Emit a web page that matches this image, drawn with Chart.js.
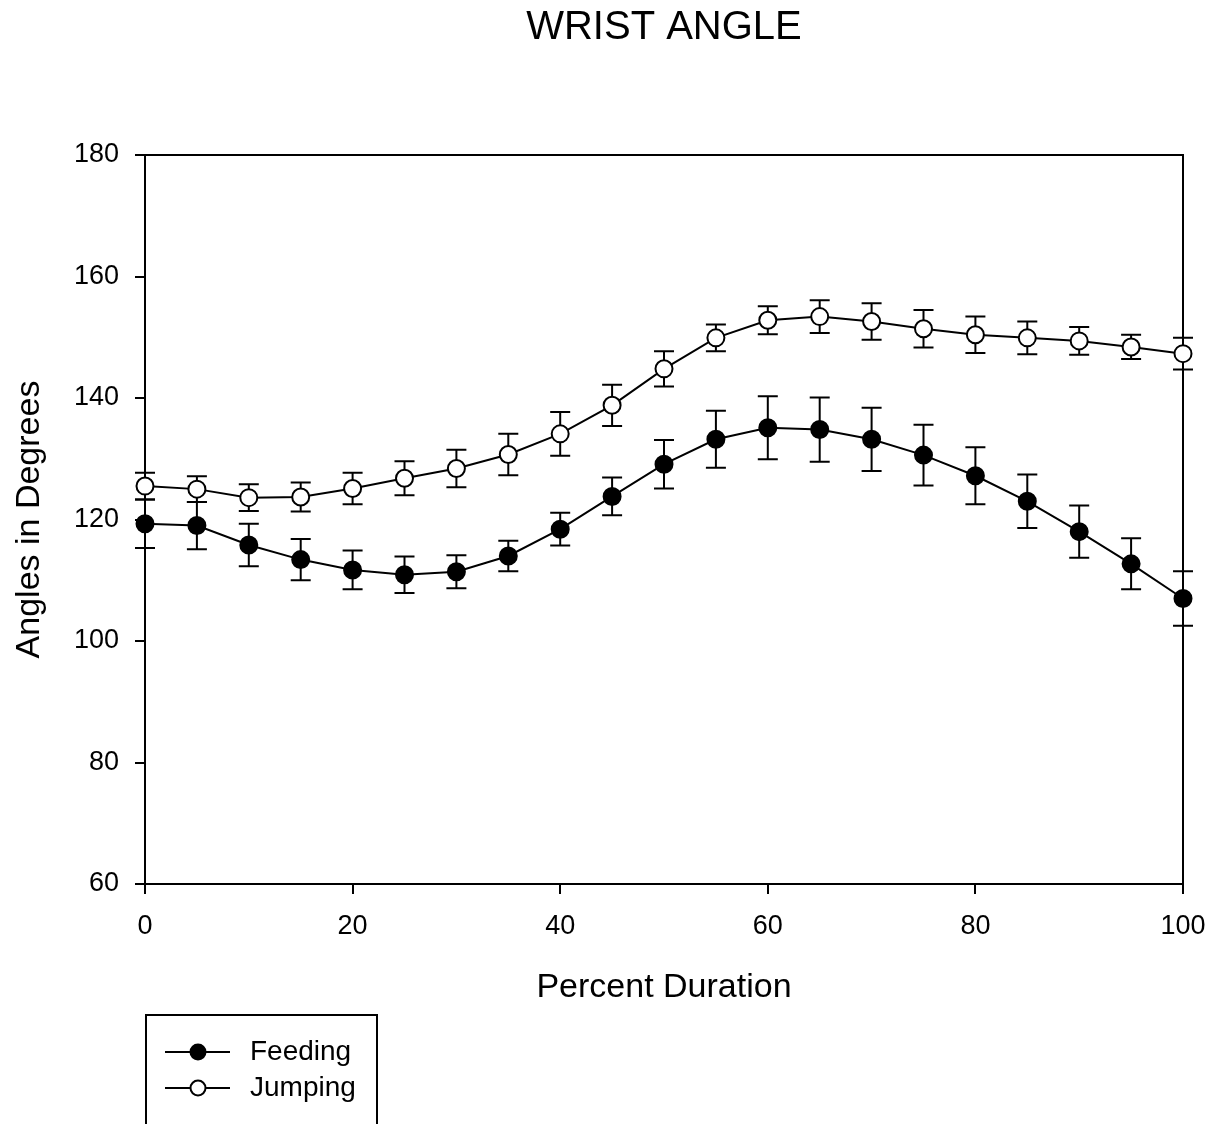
<!DOCTYPE html>
<html>
<head>
<meta charset="utf-8">
<script src="https://cdn.jsdelivr.net/npm/chart.js@4.4.1/dist/chart.umd.min.js"></script>
<style>
  html, body { margin: 0; padding: 0; background: #fff; }
  canvas { display: block; }
</style>
</head>
<body>
<canvas id="c" width="1210" height="1124"></canvas>
<script>
const titleText = 'WRIST ANGLE';
const xTitle = 'Percent Duration';
const yTitle = 'Angles in Degrees';
const percent = [0, 5, 10, 15, 20, 25, 30, 35, 40, 45, 50, 55, 60, 65, 70, 75, 80, 85, 90, 95, 100];
const feeding = [119.3, 119.0, 115.8, 113.4, 111.7, 110.9, 111.4, 114.0, 118.4, 123.8, 129.1, 133.2, 135.1, 134.8, 133.2, 130.6, 127.2, 123.0, 118.0, 112.7, 107.0];
const feedingErr = [4.0, 3.9, 3.5, 3.4, 3.2, 3.0, 2.7, 2.5, 2.7, 3.1, 4.0, 4.7, 5.2, 5.3, 5.2, 5.0, 4.7, 4.4, 4.3, 4.2, 4.5];
const jumping = [125.5, 125.0, 123.6, 123.7, 125.1, 126.8, 128.4, 130.7, 134.1, 138.8, 144.8, 149.9, 152.8, 153.4, 152.6, 151.4, 150.4, 149.9, 149.4, 148.4, 147.3];
const jumpingErr = [2.2, 2.1, 2.2, 2.4, 2.6, 2.8, 3.1, 3.4, 3.6, 3.4, 2.9, 2.2, 2.3, 2.7, 3.0, 3.1, 3.0, 2.7, 2.3, 2.0, 2.6];
const xTicks = [0, 20, 40, 60, 80, 100];
const yTicks = [60, 80, 100, 120, 140, 160, 180];
const seriesNames = ['Feeding', 'Jumping'];

const FONT = '"Liberation Sans", Arial, Helvetica, sans-serif';
Chart.defaults.font.family = FONT;
Chart.defaults.color = '#000';

const errors = [feedingErr, jumpingErr];

const frameAndErrors = {
  id: 'frameAndErrors',
  beforeDatasetsDraw(chart) {
    const ctx = chart.ctx;
    const a = chart.chartArea;
    const xs = chart.scales.x, ys = chart.scales.y;
    ctx.save();
    ctx.strokeStyle = '#000';
    ctx.lineWidth = 2;
    ctx.beginPath();
    ctx.moveTo(a.left, a.top);
    ctx.lineTo(a.right, a.top);
    ctx.lineTo(a.right, a.bottom);
    ctx.stroke();
    chart.data.datasets.forEach((ds, di) => {
      const err = errors[di];
      ds.data.forEach((p, i) => {
        const px = xs.getPixelForValue(p.x);
        const yt = ys.getPixelForValue(p.y + err[i]);
        const yb = ys.getPixelForValue(p.y - err[i]);
        ctx.beginPath();
        ctx.moveTo(px, yt); ctx.lineTo(px, yb);
        ctx.moveTo(px - 10, yt); ctx.lineTo(px + 10, yt);
        ctx.moveTo(px - 10, yb); ctx.lineTo(px + 10, yb);
        ctx.stroke();
      });
    });
    ctx.restore();
  }
};

const titleAndLegend = {
  id: 'titleAndLegend',
  afterDraw(chart) {
    const ctx = chart.ctx;
    const a = chart.chartArea;
    ctx.save();
    ctx.fillStyle = '#000';
    ctx.font = '40px ' + FONT;
    ctx.textAlign = 'center';
    ctx.textBaseline = 'alphabetic';
    ctx.fillText(titleText, (a.left + a.right) / 2, 39);
    ctx.strokeStyle = '#000';
    ctx.lineWidth = 2;
    ctx.strokeRect(146, 1015, 231, 130);
    const rows = [1052, 1088];
    chart.data.datasets.forEach((ds, i) => {
      const y = rows[i];
      ctx.beginPath();
      ctx.moveTo(165, y); ctx.lineTo(230, y);
      ctx.stroke();
      ctx.beginPath();
      ctx.arc(198, y, 7.5, 0, Math.PI * 2);
      ctx.fillStyle = ds.pointBackgroundColor;
      ctx.fill();
      ctx.stroke();
      ctx.fillStyle = '#000';
      ctx.font = '28px ' + FONT;
      ctx.textBaseline = 'middle';
      ctx.textAlign = 'left';
      ctx.fillText(ds.label, 250, y);
    });
    ctx.restore();
  }
};

new Chart(document.getElementById('c'), {
  type: 'line',
  data: {
    datasets: [
      {
        label: seriesNames[0],
        data: percent.map((x, i) => ({ x: x, y: feeding[i] })),
        borderColor: '#000',
        borderWidth: 2,
        pointBackgroundColor: '#000',
        pointBorderColor: '#000',
        pointBorderWidth: 2,
        pointRadius: 8.5,
        tension: 0,
        clip: false
      },
      {
        label: seriesNames[1],
        data: percent.map((x, i) => ({ x: x, y: jumping[i] })),
        borderColor: '#000',
        borderWidth: 2,
        pointBackgroundColor: '#fff',
        pointBorderColor: '#000',
        pointBorderWidth: 2,
        pointRadius: 8.5,
        tension: 0,
        clip: false
      }
    ]
  },
  options: {
    responsive: false,
    animation: false,
    events: [],
    layout: { padding: { left: 0, right: 27, top: 155, bottom: 0 } },
    plugins: {
      legend: { display: false },
      tooltip: { enabled: false },
      title: { display: false }
    },
    scales: {
      x: {
        type: 'linear',
        min: 0,
        max: 100,
        afterBuildTicks: (s) => { s.ticks = xTicks.map(v => ({ value: v })); },
        afterFit: (s) => { s.height = 240; s.paddingLeft = 0; s.paddingRight = 0; },
        ticks: { font: { size: 27 }, padding: 16, color: '#000', maxRotation: 0 },
        grid: { display: true, drawOnChartArea: false, drawTicks: true, tickLength: 10, lineWidth: 2, color: '#000' },
        border: { display: true, color: '#000', width: 2 },
        title: { display: true, text: xTitle, font: { size: 34 }, color: '#000', padding: { top: 0, bottom: 116 } }
      },
      y: {
        type: 'linear',
        min: 60,
        max: 180,
        afterBuildTicks: (s) => { s.ticks = yTicks.map(v => ({ value: v })); },
        afterFit: (s) => { s.width = 145; s.paddingTop = 0; s.paddingBottom = 0; },
        ticks: { font: { size: 27 }, padding: 16, color: '#000' },
        grid: { display: true, drawOnChartArea: false, drawTicks: true, tickLength: 10, lineWidth: 2, color: '#000' },
        border: { display: true, color: '#000', width: 2 },
        title: { display: true, text: yTitle, font: { size: 34 }, color: '#000', padding: { top: 9, bottom: 0 } }
      }
    }
  },
  plugins: [frameAndErrors, titleAndLegend]
});
</script>
</body>
</html>
